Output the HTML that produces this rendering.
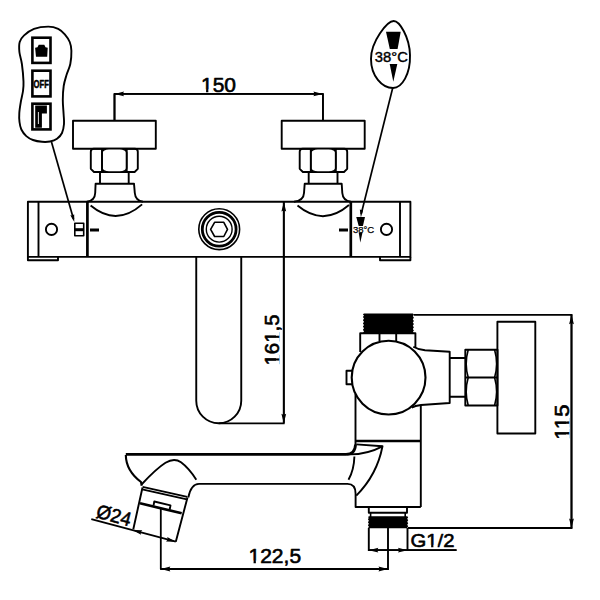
<!DOCTYPE html>
<html><head><meta charset="utf-8"><style>
html,body{margin:0;padding:0;background:#fff;width:600px;height:600px;overflow:hidden}
svg{display:block}
text{font-family:"Liberation Sans",sans-serif;fill:#000;stroke:none}
</style></head><body>
<svg width="600" height="600" viewBox="0 0 600 600" fill="none" stroke="#000" stroke-width="1.9" stroke-linejoin="round">
<!-- remote pill -->
<path d="M48.30,26.60 C52.33,26.60 55.45,27.52 58.20,28.80 C60.95,30.08 62.88,32.10 64.80,34.30 C66.72,36.50 68.65,39.25 69.75,42.00 C70.85,44.75 71.31,47.13 71.40,50.80 C71.49,54.47 71.12,59.97 70.30,64.00 C69.48,68.03 67.60,71.33 66.50,75.00 C65.40,78.67 64.32,81.83 63.70,86.00 C63.08,90.17 62.82,95.33 62.80,100.00 C62.78,104.67 63.40,110.00 63.60,114.00 C63.80,118.00 64.27,120.83 64.00,124.00 C63.73,127.17 63.17,130.53 62.00,133.00 C60.83,135.47 59.00,137.38 57.00,138.80 C55.00,140.22 52.50,141.00 50.00,141.50 C47.50,142.00 44.83,142.05 42.00,141.80 C39.17,141.55 35.62,140.95 33.00,140.00 C30.38,139.05 28.24,137.85 26.30,136.10 C24.36,134.35 22.48,131.85 21.35,129.50 C20.22,127.15 19.84,124.75 19.50,122.00 C19.16,119.25 19.08,116.33 19.30,113.00 C19.52,109.67 20.18,105.67 20.80,102.00 C21.42,98.33 22.55,94.40 23.00,91.00 C23.45,87.60 23.68,86.10 23.50,81.60 C23.32,77.10 22.58,68.93 21.90,64.00 C21.22,59.07 19.77,55.67 19.40,52.00 C19.03,48.33 18.92,44.77 19.70,42.00 C20.48,39.23 21.72,37.60 24.10,35.40 C26.48,33.20 29.97,30.27 34.00,28.80 C38.03,27.33 44.27,26.60 48.30,26.60 Z"/>
<g stroke-width="2.6" stroke-linejoin="miter">
<rect x="32.4" y="37.7" width="18.1" height="25.2"/>
<rect x="32.4" y="70.7" width="18.1" height="25.7"/>
<rect x="32.4" y="103.7" width="18.1" height="25.7"/>
</g>
<path d="M38.7,44.8 L44.3,44.8 L45.5,47.2 L47.7,47.7 L47.2,56.7 L36,56.7 L35.1,47.7 L37.5,47.2 Z" fill="#000" stroke="none"/>
<text x="33.6" y="87.8" font-size="10" textLength="15.3" lengthAdjust="spacingAndGlyphs" style="font-weight:bold;stroke:#000;stroke-width:0.55">OFF</text>
<path d="M35.2,105.6 L46.9,105.6 L46.9,113.5 L41.9,113.5 L41.9,127.8 L35.2,127.8 Z" fill="#000" stroke="none"/>
<path d="M38.4,112 L38.4,124" stroke="#fff" stroke-width="0.9"/>
<!-- leader pill -> switch -->
<path d="M51.5,142 L73.5,219" stroke-width="1.7"/>
<g fill="#000" stroke="none"><path d="M74.30,222.00 L70.32,215.34 L72.46,215.56 L74.17,214.24 Z"/></g>

<!-- egg -->
<path d="M393.7,21 C399.5,21 409.5,37 410,55 C410.5,74 402,88 393,88 C382,88 371,76 371,59 C371,41 387.5,21 393.7,21 Z"/>
<path d="M386,31.7 L400.7,31.7 L397.6,48.9 L389.8,48.9 Z" fill="#000" stroke="none"/>
<text x="374.8" y="61.8" font-size="13.8" textLength="33" lengthAdjust="spacingAndGlyphs" style="stroke:#000;stroke-width:0.4">38°C</text>
<path d="M389.7,64 L397.3,64 L393.3,81.7 Z" fill="#000" stroke="none"/>
<!-- leader egg -> body -->
<path d="M392.7,88 L361.2,214" stroke-width="1.7"/>
<g fill="#000" stroke="none"><path d="M360.90,217.50 L359.80,209.40 L361.46,210.02 L363.19,209.65 Z"/></g>
<path d="M356.25,217 L365,217 L362.9,226 L358.7,226 Z" fill="#000" stroke="none"/>
<path d="M358.7,232.5 L362.5,232.5 L360.3,242.5 Z" fill="#000" stroke="none"/>
<text x="352.9" y="233" font-size="9.5" textLength="21.3" lengthAdjust="spacingAndGlyphs" style="stroke:#000;stroke-width:0.25">38°C</text>

<!-- front view valves -->
<g>
<rect x="73" y="120.8" width="82.8" height="27.9"/>
<path d="M93.8,148.7 H134.8 Q137.8,148.7 137.8,151.7 V168.8 L134.60000000000002,172 H94.0 L90.8,168.8 V151.7 Q90.8,148.7 93.8,148.7 Z"/>
<rect x="102" y="148.7" width="24.7" height="23.3" fill="#000" stroke="none"/>
<rect x="102" y="148.7" width="24.7" height="23.3" rx="7" ry="3.8" fill="#fff" stroke-width="1.5"/>
<path d="M102,148.7 V172 M126.7,148.7 V172"/>
<path d="M100,172 V183.5 M128.7,172 V183.5"/>
<path d="M86.9,201.7 C92,201 95,198 95.2,193 L95.6,183.7 H134 L134.8,193 C135.2,198 138,201 143,201.7"/>
<path d="M90.6,205.6 Q116.3,227 142.1,204.4"/>
</g>
<g>
<rect x="281.7" y="120.8" width="83" height="27.9"/>
<path d="M302.7,148.7 H344.2 Q347.2,148.7 347.2,151.7 V168.8 L344.0,172 H302.9 L299.7,168.8 V151.7 Q299.7,148.7 302.7,148.7 Z"/>
<rect x="310.8" y="148.7" width="25.0" height="23.3" fill="#000" stroke="none"/>
<rect x="310.8" y="148.7" width="25.0" height="23.3" rx="7" ry="3.8" fill="#fff" stroke-width="1.5"/>
<path d="M310.8,148.7 V172 M335.8,148.7 V172"/>
<path d="M308.7,172 V183.5 M337.5,172 V183.5"/>
<path d="M294,201.7 C300.5,201 303.8,198 304,193 L304.7,183.7 H341.7 L342.3,193 C342.7,198 345,201 350.8,201.7"/>
<path d="M297.5,205.6 Q323.3,227 349,205"/>
</g>

<!-- body -->
<rect x="27.9" y="201.8" width="382.5" height="55.1"/>
<path d="M38.5,201.8 V256.9 M400,201.8 V256.9"/>
<path d="M87.4,201.8 V256.9 M350.8,201.8 V256.9" stroke-width="2.7"/>
<path d="M27.9,256.9 V260.3 H58 V256.9 M380,256.9 V260.3 H410.4 V256.9"/>
<circle cx="51.5" cy="229.4" r="5.6"/>
<circle cx="386.5" cy="229.4" r="5.6"/>
<path d="M90,230 H99 M339,230 H348" stroke-width="3"/>
<!-- switch icon -->
<rect x="74.8" y="223.3" width="8.9" height="12.5" stroke-width="1.6"/>
<path d="M74.8,229.7 H83.7" stroke-width="3"/>
<!-- center plug -->
<circle cx="219.2" cy="229.2" r="20.4" stroke-width="1.6"/>
<circle cx="219.2" cy="229.2" r="16.9" stroke-width="2.8"/>
<circle cx="219.2" cy="229.2" r="12.9" stroke-width="1.4"/>
<path d="M210.6,229.4 L214.6,222.3 L223.8,222.3 L227.5,229.4 L223.8,236.5 L214.6,236.5 Z" stroke-width="1.6"/>
<!-- spout front -->
<path d="M196.25,256.9 V400.75 A22.5,22.5 0 0 0 241.25,400.75 V256.9"/>

<!-- dimensions front -->
<g stroke-width="1.8">
<path d="M114.5,120.8 V93.9 H322.9 V120.8"/>
<path d="M283.8,202 V423.3 M218.8,423.3 H284.6"/>
</g>
<g fill="#000" stroke="none">
<path d="M114.50,93.90 L124.00,91.50 L122.80,93.90 L124.00,96.30 Z"/>
<path d="M322.90,93.90 L313.40,96.30 L314.60,93.90 L313.40,91.50 Z"/>
<path d="M283.80,202.00 L286.20,211.50 L283.80,210.30 L281.40,211.50 Z"/>
<path d="M283.80,423.30 L281.40,413.80 L283.80,415.00 L286.20,413.80 Z"/>
</g>
<text x="201" y="92.0" font-size="19.5" textLength="35" lengthAdjust="spacingAndGlyphs" style="stroke:#000;stroke-width:0.6">150</text>
<text transform="translate(278.6,365.5) rotate(-90)" font-size="19.5" textLength="51" lengthAdjust="spacingAndGlyphs" style="stroke:#000;stroke-width:0.6">161,5</text>

<!-- side view -->
<path d="M363.9,313.5 L412.9,313.5 L413.9,314.5 L412.8,316.1 L413.9,317.7 L412.8,319.3 L413.9,320.9 L412.8,322.5 L413.9,324.1 L412.8,325.7 L413.9,327.3 L412.8,328.9 L413.9,330.5 L412.8,332.1 L413.9,333.0 L362.9,333.0 L364.0,331.4 L362.9,329.8 L364.0,328.2 L362.9,326.6 L364.0,325.0 L362.9,323.4 L364.0,321.8 L362.9,320.2 L364.0,318.6 L362.9,317.0 L364.0,315.4 L362.9,314.5 Z" fill="#000" stroke="none"/>
<path d="M360.2,352 V333.2 H415.4 V348 M379.5,333.2 V341 M396.2,333.2 V341"/>
<circle cx="388.6" cy="377.6" r="36.9" stroke-width="2.1"/>
<path d="M352.3,370.8 H346.5 V384.3 H352.3"/>
<path d="M413.3,346.7 Q418,349.5 425,350.2 L449.7,351.7 V403 L421,405 Q415,405.8 411.7,407.6"/>
<path d="M449.7,358 H465.3 M449.7,396.8 H465.3"/>
<rect x="465.3" y="349.7" width="32.2" height="55.8"/>
<path d="M465.3,377.5 H497.5"/>
<path d="M468.2,349.7 Q464.2,363.6 468.2,377.5 Q464.2,391.5 468.2,405.5 M494.6,349.7 Q498.6,363.6 494.6,377.5 Q498.6,391.5 494.6,405.5" stroke-width="1.6"/>
<rect x="497.4" y="321.8" width="37.9" height="111.7"/>
<!-- lower body -->
<path d="M355.5,394 V445 M420.8,405 V507"/>
<path d="M355.5,441 H420.8" stroke-width="2.3"/>
<path d="M355.5,444.5 Q355.2,454.4 346,454.4 H125.8" stroke-width="2.8"/>
<path d="M356.3,444.4 L382.5,446.3 Q377,475 356.3,495.6"/>
<path d="M347,454.3 Q366,455 382.5,446.3"/>
<path d="M354.4,456.5 Q354,470 348.5,479.8"/>
<path d="M199,483.9 H347.5 Q355.6,483.9 355.6,493.8 V507 H420.8"/>
<!-- spout end -->
<path d="M125.8,455 C126,468 133,476 141,482 L141.7,485.8" stroke-width="2.1"/>
<path d="M141.5,484.5 C149,476.5 158,467.5 165.5,462.8 C170.5,459.8 176.5,459.2 181,462.3 C186,466 192,473 196.3,479.7"/>
<path d="M188.3,497.5 Q191,484 199,483.9"/>
<!-- aerator -->
<path d="M142.6,486.9 L187.3,496.9 M142.2,489.3 L186.9,499.3" stroke-width="1.7"/>
<path d="M142.5,487.5 L133.3,529.2 M187.5,497.5 L175.8,541.7"/>
<path d="M140,503.3 L181.7,513.3" stroke-width="2.7"/>
<path d="M153.5,505.6 L154.3,501.5 L170.5,505.3 L169.7,509.5"/>
<!-- bottom fitting -->
<path d="M368.8,507 V512.8 H407 V507"/>
<path d="M370.6,512.8 V517 M405.2,512.8 V517" stroke-width="1.6"/>
<path d="M368.9,516.3 L407.2,516.3 L408.2,517.3 L407.2,518.8 L408.2,520.3 L407.2,521.8 L408.2,523.3 L407.2,524.8 L408.2,526.3 L407.2,527.8 L408.2,528.3 L367.9,528.3 L368.9,526.8 L367.9,525.3 L368.9,523.8 L367.9,522.3 L368.9,520.8 L367.9,519.3 L368.9,517.8 L367.9,517.3 Z" fill="#000" stroke="none"/>
<path d="M368.8,528 V551 M407.5,528 V551"/>
<path d="M388,528 V570"/>

<!-- dimensions side -->
<g stroke-width="1.8">
<path d="M413.7,314.8 H572.5 M408,528 H572.5 M571.5,314.8 V528"/>
<path d="M368.8,550.2 H456.5"/>
<path d="M160.8,509 V569 H388"/>
<path d="M91.3,519.2 L175.8,541.7"/>
</g>
<g fill="#000" stroke="none">
<path d="M571.50,314.80 L573.90,324.30 L571.50,323.10 L569.10,324.30 Z"/>
<path d="M571.50,528.00 L569.10,518.50 L571.50,519.70 L573.90,518.50 Z"/>
<path d="M368.80,550.20 L378.30,547.80 L377.10,550.20 L378.30,552.60 Z"/>
<path d="M407.50,550.20 L398.00,552.60 L399.20,550.20 L398.00,547.80 Z"/>
<path d="M160.80,569.00 L170.30,566.60 L169.10,569.00 L170.30,571.40 Z"/>
<path d="M388.00,569.00 L378.50,571.40 L379.70,569.00 L378.50,566.60 Z"/>
<path d="M132.50,530.10 L142.30,530.23 L140.52,532.24 L141.06,534.86 Z"/>
<path d="M175.80,541.70 L166.00,541.57 L167.78,539.56 L167.24,536.94 Z"/>
</g>
<text transform="translate(568.7,439.8) rotate(-90)" font-size="19.5" textLength="35.3" lengthAdjust="spacingAndGlyphs" style="stroke:#000;stroke-width:0.6">115</text>
<text x="248.5" y="563.2" font-size="19.5" textLength="52.6" lengthAdjust="spacingAndGlyphs" style="stroke:#000;stroke-width:0.6">122,5</text>
<text x="410.5" y="547.4" font-size="19" textLength="44" lengthAdjust="spacingAndGlyphs" style="stroke:#000;stroke-width:0.6">G1/2</text>
<text transform="translate(95.3,517.3) rotate(14.9)" font-size="19.5" textLength="35" lengthAdjust="spacingAndGlyphs" style="stroke:#000;stroke-width:0.6">Ø24</text>
<g id="onefix" fill="#fff" stroke="none"><rect x="201.41" y="89.43" width="4.64" height="3.52"/><rect x="208.35" y="89.43" width="4.22" height="3.52"/><rect x="248.91" y="560.63" width="4.65" height="3.52"/><rect x="255.87" y="560.63" width="4.23" height="3.52"/><rect x="426.66" y="544.90" width="4.49" height="3.43"/><rect x="433.38" y="544.90" width="4.08" height="3.43"/><g transform="translate(278.6,365.5) rotate(-90)"><rect x="0.40" y="-2.57" width="4.51" height="3.52"/><rect x="7.14" y="-2.57" width="4.10" height="3.52"/><rect x="23.06" y="-2.57" width="4.51" height="3.52"/><rect x="29.80" y="-2.57" width="4.10" height="3.52"/></g><g transform="translate(568.7,439.8) rotate(-90)"><rect x="0.43" y="-2.57" width="4.90" height="3.52"/><rect x="7.76" y="-2.57" width="4.45" height="3.52"/><rect x="11.09" y="-2.57" width="4.90" height="3.52"/><rect x="18.42" y="-2.57" width="4.45" height="3.52"/></g></g>
<g stroke-width="1.8"><path d="M114.5,120.8 V93.9 H322.9 V120.8"/><path d="M368.8,550.2 H456.5"/><path d="M160.8,569 H388"/><path d="M283.8,202 V423.3"/><path d="M571.5,314.8 V528"/></g>
</svg>
</body></html>
